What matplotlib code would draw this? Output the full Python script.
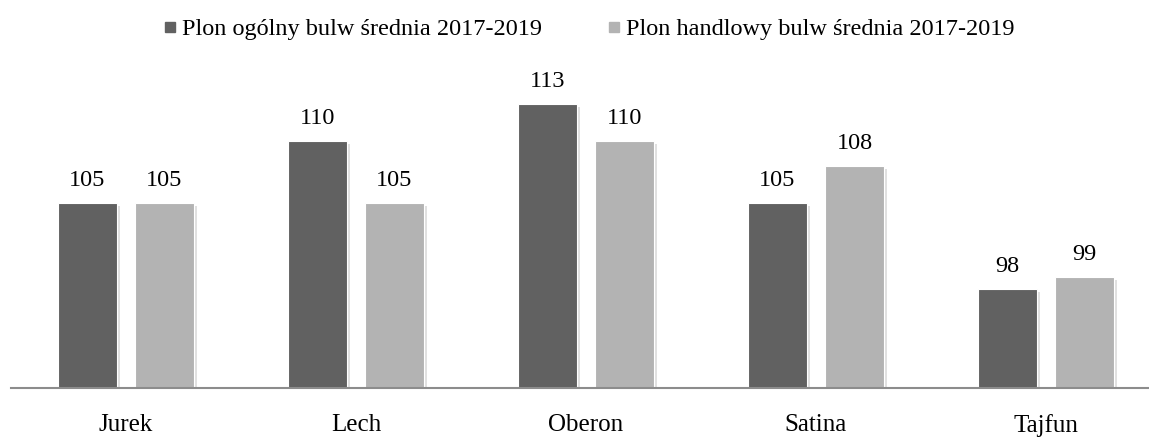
import matplotlib
matplotlib.use("Agg")
import matplotlib.pyplot as plt
import matplotlib.patheffects as pe
from matplotlib.lines import Line2D
import numpy as np

categories = ["Jurek", "Lech", "Oberon", "Satina", "Tajfun"]
series_names = ["Plon ogólny bulw średnia 2017-2019", "Plon handlowy bulw średnia 2017-2019"]
plon_ogolny = [105, 110, 113, 105, 98]
plon_handlowy = [105, 105, 110, 108, 99]
colors = ["#616161", "#b3b3b3"]

plt.rcParams['font.family'] = ['Liberation Serif', 'DejaVu Serif']

W, H = 1149, 438
fig = plt.figure(figsize=(W / 100, H / 100), dpi=100)
left = 11 / W
bottom = (H - 388) / H
top_px = 45
ax = fig.add_axes([left, bottom, 1 - left, (388 - top_px) / H])

x = np.arange(len(categories))
bw = 0.257
off = 0.1675
shadow = [pe.SimplePatchShadow(offset=(2, -2), shadow_rgbFace="#000000", alpha=0.12), pe.Normal()]
for vals, dx, col, name in [(plon_ogolny, -off, colors[0], series_names[0]),
                            (plon_handlowy, off, colors[1], series_names[1])]:
    bars = ax.bar(x + dx, vals, width=bw, bottom=0, color=col, edgecolor="white",
                  linewidth=0.8, label=name, zorder=2)
    for b in bars:
        b.set_path_effects(shadow)
    for xi, v in zip(x + dx, vals):
        ax.annotate(f"{v}", (xi, v), xytext=(0, 9), textcoords="offset points",
                    ha="center", va="bottom", fontsize=17.5, color="#000000")

ax.set_xlim(-0.5, 4.448)
ax.set_ylim(90, 90 + (388 - top_px) / 12.33)
ax.set_xticks(x)
ax.set_xticklabels(categories, fontsize=18)
ax.tick_params(axis="x", length=0, pad=19)
ax.set_yticks([])
for s in ["top", "right", "left"]:
    ax.spines[s].set_visible(False)
ax.spines["bottom"].set_color("#8c8c8c")
ax.spines["bottom"].set_linewidth(1.5)
ax.spines["bottom"].set_zorder(3)

handles = [Line2D([], [], marker="s", linestyle="none", markersize=7.5,
                  markerfacecolor=c, markeredgecolor=c) for c in colors]
fig.legend(handles, series_names, loc="center", bbox_to_anchor=(588 / W, 1 - 29 / H),
           ncol=2, frameon=False, fontsize=17.5, handletextpad=0.15, columnspacing=2.6,
           handlelength=0.7)

fig.savefig("out.png", dpi=100)
